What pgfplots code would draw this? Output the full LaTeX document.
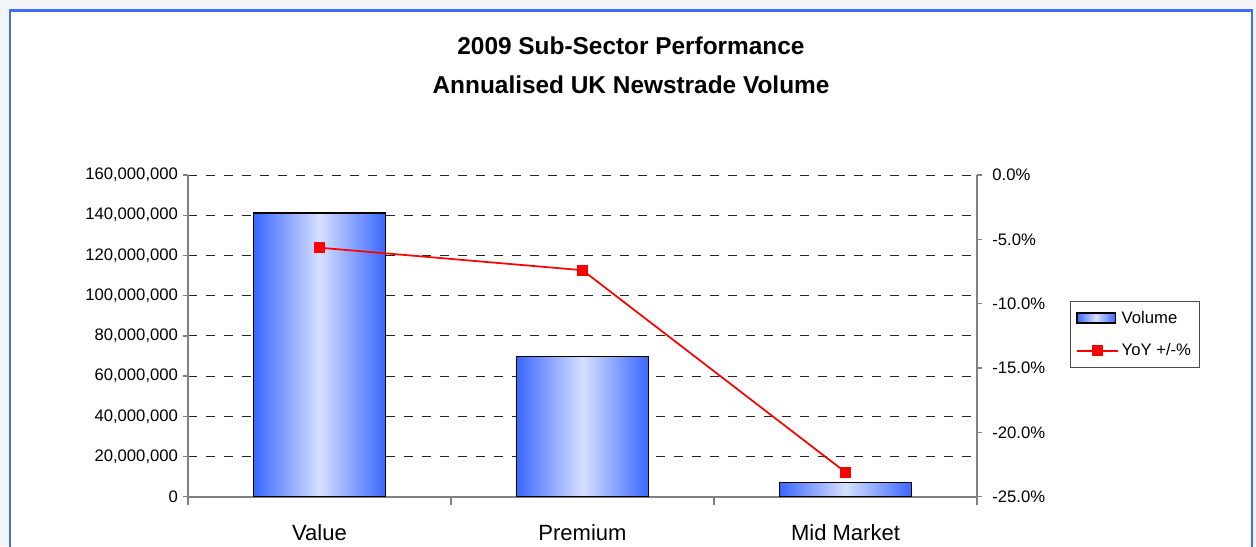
\documentclass[border=0pt]{standalone}
\usepackage{pgfplots}
\pgfplotsset{compat=1.18}
\usepackage{fontspec}
\setmainfont{Liberation Sans}
\definecolor{framecol}{HTML}{3F6EFF}
\definecolor{bgcol}{HTML}{F3F4F8}
\definecolor{barblue}{HTML}{3B68FF}
\definecolor{barlight}{HTML}{D6E0FF}
\definecolor{axgray}{HTML}{808080}
\pgfplotsset{
  mylinelegend/.style={legend image code/.code={\draw[mark repeat=2,mark phase=2,##1] plot coordinates {(0pt,0pt) (15.5pt,0pt) (31pt,0pt)};}},
  mybarlegend/.style={legend image code/.code={\draw[draw=black, line width=1.1pt, left color=barblue, right color=barblue, middle color=barlight] (0pt,-3.75pt) rectangle (29pt,3.75pt);}},
  mybar/.style={ybar, bar width=0.5, bar shift=0pt, draw=black, line width=1.1pt,
    left color=barblue, right color=barblue, middle color=barlight, mybarlegend},
}
\begin{document}
\begin{tikzpicture}
\begin{scope}[x=0.75pt,y=-0.75pt]
\path[use as bounding box] (0,0) rectangle (1256,546);
\fill[bgcol] (0,0) rectangle (1256,546);
\fill[white] (10,10.5) rectangle (1252,560);
\draw[framecol, line width=2.2pt] (10,560) -- (10,10.5) -- (1252,10.5) -- (1252,560);
\node[font=\bfseries\fontsize{18.3}{22}\selectfont, align=center] at (631,46) {2009 Sub-Sector Performance};
\node[font=\bfseries\fontsize{18.3}{22}\selectfont, align=center] at (631,85) {Annualised UK Newstrade Volume};
\coordinate (A) at (188,496.7);
\end{scope}
\begin{axis}[
  at={(A)}, anchor=south west,
  scale only axis, width=591.75pt, height=241.3pt,
  xmin=-0.5, xmax=2.5,
  ymin=0, ymax=160000000,
  ytick={0,20000000,40000000,60000000,80000000,100000000,120000000,140000000,160000000},
  scaled y ticks=false,
  yticklabel style={font=\fontsize{12.5}{15}\selectfont, /pgf/number format/.cd, fixed, 1000 sep={,}, assume math mode=true},
  xtick={0,1,2},
  xticklabels={Value,Premium,Mid Market},
  xticklabel style={font=\fontsize{16.5}{19}\selectfont, yshift=-13pt},
  major x tick style={draw=none},
  minor xtick={-0.5,0.5,1.5,2.5},
  minor tick length=6pt,
  major tick length=4pt,
  tick align=outside,
  axis x line*=bottom, axis y line*=left,
  axis line style={axgray, line width=1.3pt, -},
  tick style={axgray, line width=1pt},
  ymajorgrids=true,
  grid style={black!85, line width=0.7pt, dash pattern=on 7pt off 6.5pt},
  legend style={at={(1.118,0.608)}, anchor=north west, draw=black!70, line width=0.8pt, fill=white,
    font=\fontsize{12.5}{15}\selectfont, row sep=10pt, inner xsep=4pt, inner ysep=5pt},
  legend cell align=left,
  clip=false,
]
\addplot[mybar] coordinates {(0,141200000)};
\addlegendentry{Volume}
\addplot[mybar, forget plot] coordinates {(1,69600000)};
\addplot[mybar, forget plot] coordinates {(2,7000000)};
\addlegendimage{red, line width=1.3pt, mark=square*, mark size=3.5pt, mark options={solid}, mylinelegend}
\addlegendentry{YoY +/-\%}
\end{axis}
\begin{axis}[
  at={(A)}, anchor=south west,
  scale only axis, width=591.75pt, height=241.3pt,
  xmin=-0.5, xmax=2.5,
  ymin=-25, ymax=0,
  ytick={-25,-20,-15,-10,-5,0},
  yticklabel={\pgfmathprintnumber[fixed,fixed zerofill,precision=1,assume math mode=true]{\tick}\%},
  yticklabel style={font=\fontsize{12.5}{15}\selectfont, xshift=4pt},
  axis x line=none, axis y line*=right,
  axis line style={axgray, line width=1.3pt, -},
  tick style={axgray, line width=1pt},
  major tick length=4pt,
  tick align=outside,
  clip=false,
]
\addplot[red, line width=1.3pt, mark=square*, mark size=3.5pt, mark options={solid}]
  coordinates {(0,-5.65) (1,-7.4) (2,-23.1)};
\end{axis}
\end{tikzpicture}
\end{document}
